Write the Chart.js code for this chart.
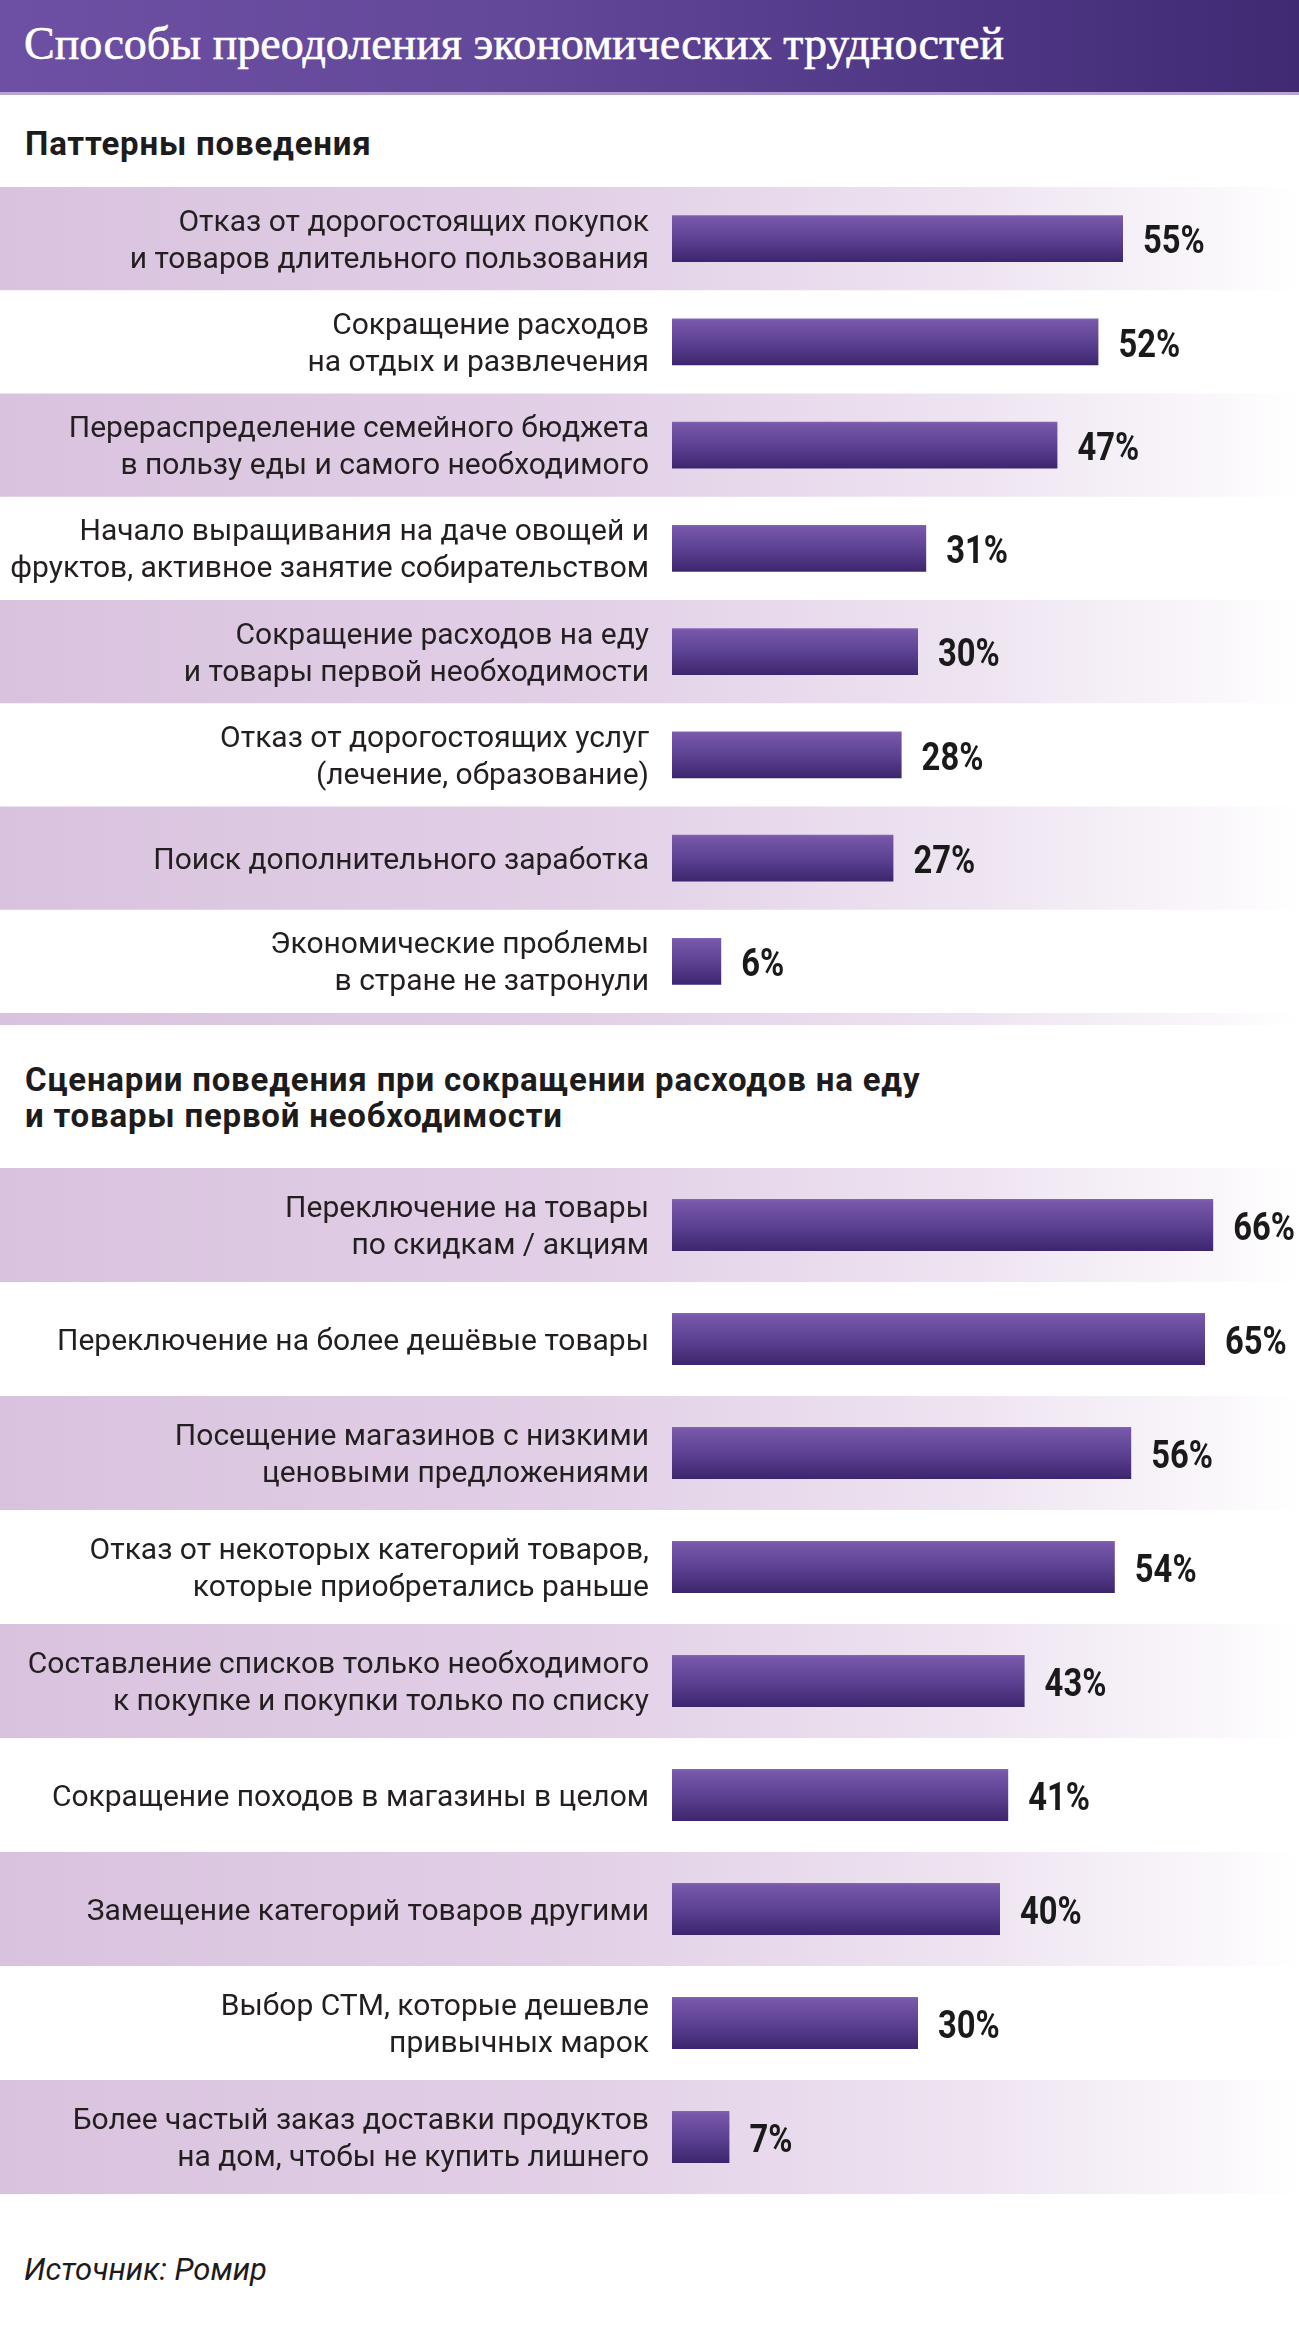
<!DOCTYPE html>
<html lang="ru">
<head>
<meta charset="utf-8">
<title>Способы преодоления экономических трудностей</title>
<script src="https://cdn.jsdelivr.net/npm/chart.js@4.4.1/dist/chart.umd.min.js"></script>
<style>
  html, body { margin: 0; padding: 0; background: #ffffff; }
  #page { position: relative; width: 1299px; height: 2332px; overflow: hidden; background: #fff; }
  #titlebar {
    position: absolute; left: 0; top: 0; width: 1299px; height: 92px;
    background: linear-gradient(90deg, #6d50a3 0%, #634799 40%, #4e3684 75%, #3f2a73 100%);
    border-bottom: 3px solid #b9a5d4;
  }
  #title {
    position: absolute; left: 24px; top: 21px; margin: 0;
    font-family: "Liberation Serif", "DejaVu Serif", serif; font-size: 46px; line-height: 1;
    font-weight: normal; color: #ffffff; white-space: nowrap;
    -webkit-text-stroke: 0.6px #ffffff;
  }
  .heading {
    position: absolute; left: 25px; margin: 0;
    font-family: Roboto, "Noto Sans", sans-serif; font-weight: bold; font-size: 33px;
    color: #1d1b1c; letter-spacing: 0.8px; white-space: nowrap;
  }
  #h1 { top: 127px; line-height: 1; }
  #h2 { top: 1062px; line-height: 36px; }
  #source {
    position: absolute; left: 24px; top: 2254px; margin: 0;
    font-family: Roboto, "Noto Sans", sans-serif; font-style: italic; font-size: 31px; line-height: 1;
    color: #1d1b1c; white-space: nowrap;
  }
  canvas { position: absolute; left: 0; }
  #c1 { top: 187px; }
  #c2 { top: 1168px; }
</style>
</head>
<body>
<div id="page">
  <div id="titlebar"><h1 id="title">Способы преодоления экономических трудностей</h1></div>
  <h2 class="heading" id="h1">Паттерны поведения</h2>
  <h2 class="heading" id="h2">Сценарии поведения при сокращении расходов на еду<br>и товары первой необходимости</h2>
  <canvas id="c1" width="1299" height="840"></canvas>
  <canvas id="c2" width="1299" height="1026"></canvas>
  <p id="source">Источник: Ромир</p>
</div>
<script>
// ---- Data ----
const patternLabels = [
  ["Отказ от дорогостоящих покупок", "и товаров длительного пользования"],
  ["Сокращение расходов", "на отдых и развлечения"],
  ["Перераспределение семейного бюджета", "в пользу еды и самого необходимого"],
  ["Начало выращивания на даче овощей и", "фруктов, активное занятие собирательством"],
  ["Сокращение расходов на еду", "и товары первой необходимости"],
  ["Отказ от дорогостоящих услуг", "(лечение, образование)"],
  ["Поиск дополнительного заработка"],
  ["Экономические проблемы", "в стране не затронули"]
];
const patternValues = [55, 52, 47, 31, 30, 28, 27, 6];

const scenarioLabels = [
  ["Переключение на товары", "по скидкам / акциям"],
  ["Переключение на более дешёвые товары"],
  ["Посещение магазинов с низкими", "ценовыми предложениями"],
  ["Отказ от некоторых категорий товаров,", "которые приобретались раньше"],
  ["Составление списков только необходимого", "к покупке и покупки только по списку"],
  ["Сокращение походов в магазины в целом"],
  ["Замещение категорий товаров другими"],
  ["Выбор СТМ, которые дешевле", "привычных марок"],
  ["Более частый заказ доставки продуктов", "на дом, чтобы не купить лишнего"]
];
const scenarioValues = [66, 65, 56, 54, 43, 41, 40, 30, 7];

const valueSuffix = "%";
const axisMax = 75;

// ---- Styling helpers ----
const BAR_FRACTION = 0.455;

function barGradient(c) {
  const ch = c.chart;
  const ca = ch.chartArea;
  if (!ca) return '#5a3f8d';
  const n = ch.data.labels.length;
  const rowH = (ca.bottom - ca.top) / n;
  const cy = ca.top + rowH * (c.dataIndex + 0.5);
  const h = rowH * BAR_FRACTION;
  const g = ch.ctx.createLinearGradient(0, cy - h / 2, 0, cy + h / 2);
  g.addColorStop(0, '#8466b3');
  g.addColorStop(0.05, '#7757a9');
  g.addColorStop(0.5, '#5d4293');
  g.addColorStop(1, '#3c256e');
  return g;
}

function bandFill(ctx, w) {
  const g = ctx.createLinearGradient(0, 0, w, 0);
  g.addColorStop(0, '#d9c2de');
  g.addColorStop(0.45, '#e2d0e7');
  g.addColorStop(0.75, '#eee4f1');
  g.addColorStop(0.92, '#f9f5fa');
  g.addColorStop(1, '#ffffff');
  return g;
}

const bandsPlugin = {
  id: 'bands',
  beforeDraw(chart, args, opts) {
    const ca = chart.chartArea;
    const ctx = chart.ctx;
    const n = chart.data.labels.length;
    const rowH = (ca.bottom - ca.top) / n;
    ctx.save();
    ctx.fillStyle = bandFill(ctx, chart.width);
    for (let i = 0; i < n; i += 2) {
      ctx.fillRect(0, ca.top + i * rowH, chart.width, rowH);
    }
    if (opts && opts.trailingStrip) {
      ctx.fillRect(0, ca.bottom, chart.width, opts.trailingStrip);
    }
    ctx.restore();
  }
};

const valuesPlugin = {
  id: 'values',
  afterDatasetsDraw(chart) {
    const ctx = chart.ctx;
    const meta = chart.getDatasetMeta(0);
    const vals = chart.data.datasets[0].data;
    ctx.save();
    ctx.font = 'bold 39px Roboto, "Noto Sans", sans-serif';
    ctx.fillStyle = '#1b1a1b';
    ctx.textAlign = 'left';
    ctx.textBaseline = 'middle';
    meta.data.forEach((bar, i) => {
      ctx.save();
      ctx.translate(bar.x + 20, bar.y + 5);
      ctx.scale(0.84, 1);
      ctx.fillText(vals[i] + valueSuffix, 0, 0);
      ctx.restore();
    });
    ctx.restore();
  }
};

function makeChart(id, labels, values, padBottom, strip) {
  return new Chart(document.getElementById(id), {
    type: 'bar',
    data: {
      labels: labels,
      datasets: [{
        data: values,
        backgroundColor: barGradient,
        borderWidth: 0,
        barPercentage: BAR_FRACTION,
        categoryPercentage: 1
      }]
    },
    options: {
      indexAxis: 'y',
      responsive: false,
      animation: false,
      devicePixelRatio: 1,
      layout: { padding: { left: 0, right: 12, top: 0, bottom: padBottom } },
      plugins: {
        legend: { display: false },
        tooltip: { enabled: false },
        bands: { trailingStrip: strip }
      },
      scales: {
        x: { display: false, min: 0, max: axisMax },
        y: {
          afterFit(scale) {
            scale.width = 672;
            scale.paddingTop = 0;
            scale.paddingBottom = 0;
          },
          grid: { display: false, drawTicks: false },
          border: { display: false },
          ticks: {
            padding: 23,
            labelOffset: 3,
            color: '#231f20',
            font: { family: 'Roboto, "Noto Sans", sans-serif', size: 30, lineHeight: 1.24 }
          }
        }
      }
    },
    plugins: [bandsPlugin, valuesPlugin]
  });
}

makeChart('c1', patternLabels, patternValues, 14, 12);
makeChart('c2', scenarioLabels, scenarioValues, 0, 0);
</script>
</body>
</html>
